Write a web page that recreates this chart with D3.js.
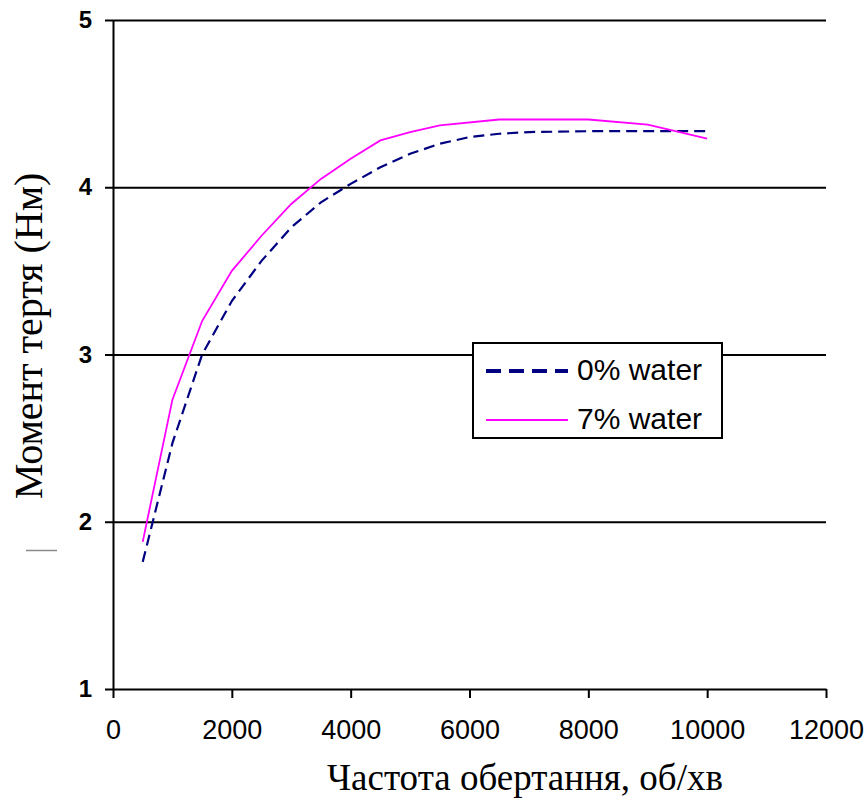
<!DOCTYPE html>
<html>
<head>
<meta charset="utf-8">
<script src="https://cdn.jsdelivr.net/npm/d3@7"></script>
<style>
    body { margin: 0; background: #FFFFFF; }
</style>
</head>
<body>
<svg id="plot"></svg>
<script>
//Define data
const xTicks = [0, 2000, 4000, 6000, 8000, 10000, 12000];
const yTicks = [1, 2, 3, 4, 5];
const seriesNames = ["0% water", "7% water"];

// 0% water (dashed navy)
const rpm0 = [500, 1000, 1500, 2000, 2500, 3000, 3500, 4000, 4500, 5000, 5500, 6000, 6500, 7000, 8000, 9000, 10000];
const torque0 = [1.76, 2.47, 3.0, 3.32, 3.56, 3.76, 3.91, 4.02, 4.12, 4.2, 4.26, 4.3, 4.32, 4.33, 4.335, 4.335, 4.335];

// 7% water (solid magenta)
const rpm7 = [500, 1000, 1500, 2000, 2500, 3000, 3500, 4000, 4500, 5000, 5500, 6500, 8000, 9000, 10000];
const torque7 = [1.88, 2.73, 3.2, 3.5, 3.71, 3.9, 4.05, 4.17, 4.28, 4.33, 4.37, 4.405, 4.405, 4.375, 4.29];

let width = 867;
let height = 801;
let margin = { top: 20, bottom: 112, left: 113, right: 41 };

let svg = d3.select('#plot')
    .attr('width', width)
    .attr('height', height)
    .style('background', '#FFFFFF');

let xScale = d3.scaleLinear()
    .domain([0, 12000])
    .range([margin.left, width - margin.right]);

let yScale = d3.scaleLinear()
    .domain([1, 5])
    .range([height - margin.bottom, margin.top]);

// horizontal gridlines
let grid = svg.append('g')
    .attr('transform', `translate(${margin.left}, 0)`)
    .call(d3.axisLeft(yScale).tickValues(yTicks.slice(1)).tickSize(-(width - margin.left - margin.right)).tickFormat(''));
grid.select('.domain').remove();
grid.selectAll('line').attr('stroke', '#000').attr('stroke-width', 2);

// x axis
let xAxis = svg.append('g')
    .attr('transform', `translate(0, ${height - margin.bottom})`)
    .call(d3.axisBottom(xScale).tickValues(xTicks).tickFormat(d3.format('d'))
        .tickSize(9).tickSizeOuter(0).tickPadding(22));
xAxis.select('.domain').attr('stroke-width', 2);
xAxis.selectAll('line').attr('stroke-width', 2);
xAxis.selectAll('text')
    .style('font-family', '"Liberation Sans", Arial, sans-serif')
    .style('font-size', '27px')
    .attr('fill', '#000');

// y axis
let yAxis = svg.append('g')
    .attr('transform', `translate(${margin.left}, 0)`)
    .call(d3.axisLeft(yScale).tickValues(yTicks).tickFormat(d3.format('d'))
        .tickSize(8).tickSizeOuter(0).tickPadding(13));
yAxis.select('.domain').attr('stroke-width', 2);
yAxis.selectAll('line').attr('stroke-width', 2);
yAxis.selectAll('text')
    .style('font-family', '"Liberation Sans", Arial, sans-serif')
    .style('font-size', '24px')
    .style('font-weight', 'bold')
    .attr('fill', '#000');

// lines
let line = d3.line()
    .x(d => xScale(d[0]))
    .y(d => yScale(d[1]));

svg.append('path')
    .datum(d3.zip(rpm0, torque0))
    .attr('d', line)
    .attr('fill', 'none')
    .attr('stroke', '#000080')
    .attr('stroke-width', 2.2)
    .attr('stroke-dasharray', '11,6');

svg.append('path')
    .datum(d3.zip(rpm7, torque7))
    .attr('d', line)
    .attr('fill', 'none')
    .attr('stroke', '#FF00FF')
    .attr('stroke-width', 1.8);

// axis titles
svg.append('text')
    .attr('x', 525)
    .attr('y', 790)
    .attr('text-anchor', 'middle')
    .style('font-family', '"Liberation Serif", "Times New Roman", serif')
    .style('font-size', '37px')
    .text('Частота обертання, об/хв');

svg.append('text')
    .attr('transform', 'translate(42, 336) rotate(-90)')
    .attr('text-anchor', 'middle')
    .style('font-family', '"Liberation Serif", "Times New Roman", serif')
    .style('font-size', '40px')
    .text('Момент тертя (Нм)');

// small stray mark left of the axis
svg.append('line')
    .attr('x1', 26).attr('x2', 57)
    .attr('y1', 550.5).attr('y2', 550.5)
    .attr('stroke', '#8a8a8a')
    .attr('stroke-width', 1.5);

// legend
let legend = svg.append('g')
    .attr('class', 'legend')
    .attr('transform', 'translate(473, 343)');

legend.append('rect')
    .attr('x', 0)
    .attr('y', 0)
    .attr('width', 249)
    .attr('height', 95)
    .attr('fill', '#FFFFFF')
    .attr('stroke', '#000')
    .attr('stroke-width', 2);

legend.append('line')
    .attr('x1', 13).attr('x2', 95)
    .attr('y1', 28).attr('y2', 28)
    .attr('stroke', '#000080')
    .attr('stroke-width', 4)
    .attr('stroke-dasharray', '15,8');

legend.append('line')
    .attr('x1', 13).attr('x2', 95)
    .attr('y1', 77).attr('y2', 77)
    .attr('stroke', '#FF00FF')
    .attr('stroke-width', 2);

legend.selectAll('text.lbl')
    .data(seriesNames)
    .enter()
    .append('text')
    .attr('class', 'lbl')
    .attr('x', 104)
    .attr('y', (d, i) => 37 + i * 49)
    .style('font-family', '"Liberation Sans", Arial, sans-serif')
    .style('font-size', '30px')
    .text(d => d);
</script>
</body>
</html>
